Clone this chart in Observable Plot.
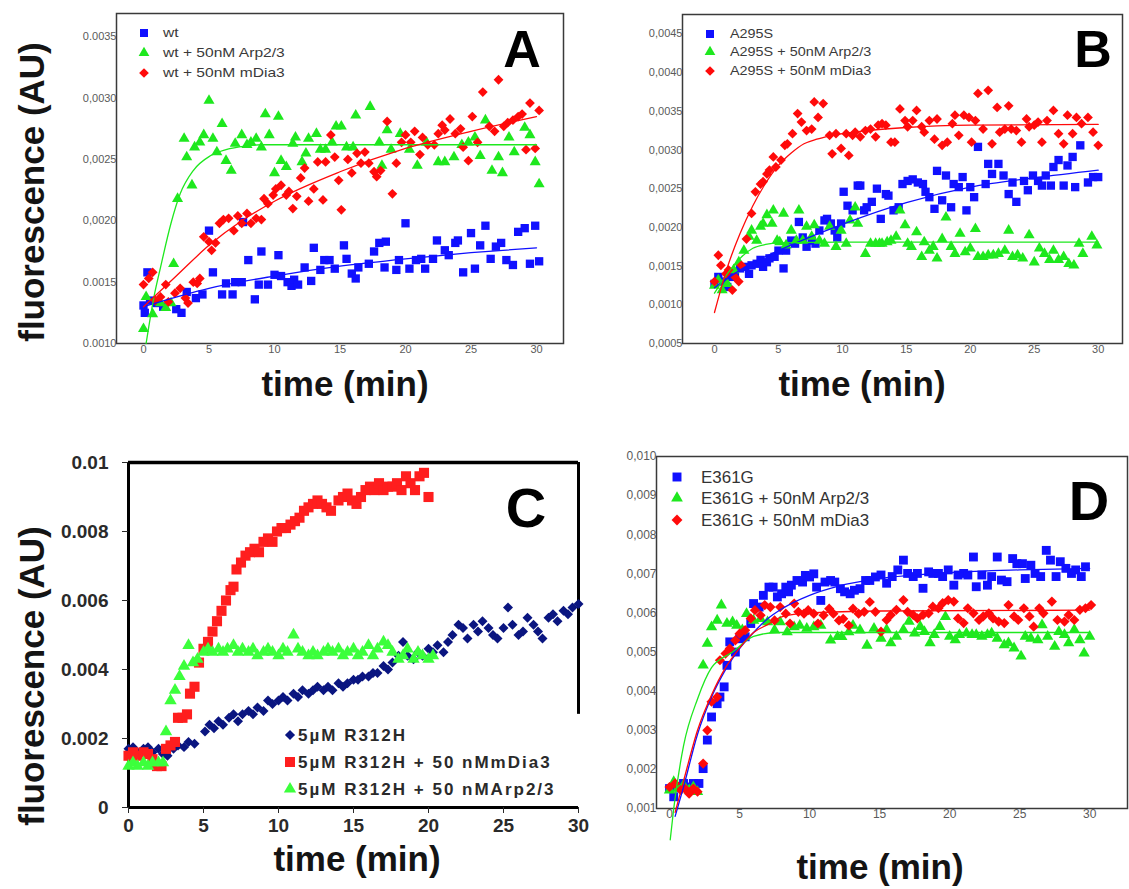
<!DOCTYPE html>
<html><head><meta charset="utf-8">
<script src="https://cdn.jsdelivr.net/npm/d3@7"></script>
<script src="https://cdn.jsdelivr.net/npm/@observablehq/plot@0.6"></script>
<style>
body{margin:0;background:#fff;}
#fig{position:relative;width:1129px;height:889px;overflow:hidden;background:#fff;}
</style></head><body><div id="fig"></div>
<script>
// ---------------- DATA (time in min, fluorescence in AU) ----------------
const xTicks = [0, 5, 10, 15, 20, 25, 30];
const aYTicks = [0.001, 0.0015, 0.002, 0.0025, 0.003, 0.0035];
const aYLabels = ["0.0010", "0.0015", "0,0020", "0,0025", "0,0030", "0.0035"];
const bYTicks = [0.0005, 0.001, 0.0015, 0.002, 0.0025, 0.003, 0.0035, 0.004, 0.0045];
const bYLabels = ["0,0005", "0,0010", "0,0015", "0,0020", "0,0025", "0,0030", "0,0035", "0,0040", "0,0045"];
const cYTicks = [0, 0.002, 0.004, 0.006, 0.008, 0.01];
const cYLabels = ["0", "0.002", "0.004", "0.006", "0.008", "0.01"];
const dYTicks = [0.001, 0.002, 0.003, 0.004, 0.005, 0.006, 0.007, 0.008, 0.009, 0.010];
const dYLabels = ["0,001", "0,002", "0,003", "0,004", "0,005", "0,006", "0,007", "0,008", "0,009", "0,010"];

const legendA = ["wt", "wt + 50nM Arp2/3", "wt + 50nM mDia3"];
const legendB = ["A295S", "A295S + 50nM Arp2/3", "A295S + 50nM mDia3"];
const legendC = ["5µM R312H", "5µM R312H + 50 nMmDia3", "5µM R312H + 50 nMArp2/3"];
const legendD = ["E361G", "E361G + 50nM Arp2/3", "E361G + 50nM mDia3"];

// Panel A
const A_wt = [[0,0.00131],[0.1,0.00125],[0.3,0.00158],[0.5,0.00135],[1,0.00133],[1.5,0.0013],[2.5,0.00128],[2.9,0.00125],[3.3,0.00142],[4,0.00137],[4.5,0.0014],[5,0.00192],[5.3,0.00158],[6,0.0014],[6.3,0.00149],[6.8,0.0014],[7,0.0015],[7.5,0.0015],[7.6,0.00199],[8,0.00168],[8.5,0.00136],[8.8,0.00148],[9,0.00175],[9.5,0.00148],[10,0.00156],[10.3,0.00172],[10.5,0.00155],[11,0.0015],[11.3,0.00147],[11.5,0.00152],[11.8,0.00148],[12.3,0.00162],[12.8,0.00151],[13,0.00178],[13.5,0.0016],[13.8,0.00168],[14.2,0.00168],[14.6,0.00161],[15.3,0.0018],[15.5,0.00169],[15.9,0.00157],[16.2,0.00153],[16.4,0.00162],[17.2,0.00165],[17.6,0.00175],[18,0.00182],[18.4,0.00162],[18.5,0.00183],[19.3,0.0016],[19.5,0.00168],[20,0.00198],[20.3,0.00161],[20.8,0.00168],[21.2,0.00169],[21.5,0.00161],[22.1,0.00169],[22.4,0.00184],[23,0.00176],[23.3,0.00172],[23.8,0.00182],[24,0.00184],[24.4,0.00158],[25,0.0019],[25.3,0.00161],[25.7,0.0018],[26.1,0.00196],[26.5,0.00169],[26.9,0.00179],[27.3,0.00182],[27.7,0.00168],[28.2,0.00164],[28.6,0.00191],[29.1,0.00194],[29.5,0.00165],[29.9,0.00196],[30.2,0.00167]];
const A_arp = [[0,0.00112],[0.2,0.00138],[0.7,0.00124],[1.3,0.00133],[1.7,0.00129],[2.1,0.00133],[2.3,0.00165],[2.6,0.00218],[3.1,0.00267],[3.3,0.00252],[3.7,0.00229],[3.9,0.0026],[4.3,0.00264],[4.6,0.0027],[5,0.00298],[5.3,0.00267],[5.6,0.00256],[6,0.00279],[6.3,0.00249],[6.7,0.00241],[7,0.00263],[7.5,0.0027],[7.9,0.00262],[8.2,0.00264],[8.6,0.00267],[9,0.0026],[9.3,0.00287],[9.6,0.0027],[10,0.00239],[10.3,0.00285],[10.5,0.00249],[10.9,0.00244],[11.4,0.00263],[11.6,0.00268],[12.1,0.00248],[12.4,0.00255],[12.6,0.00267],[13.2,0.00271],[13.5,0.00258],[13.9,0.00258],[14.4,0.00264],[14.7,0.00277],[15.1,0.00277],[15.5,0.0026],[16,0.0026],[16.2,0.00286],[17.3,0.00293],[18,0.00264],[18.2,0.00245],[18.6,0.00274],[18.9,0.00258],[19.6,0.00271],[20.3,0.00258],[20.9,0.00245],[21.6,0.00264],[22.5,0.00248],[23,0.00248],[23.7,0.00252],[24.3,0.00262],[24.8,0.00264],[25.3,0.00268],[25.7,0.00253],[26.1,0.00282],[26.6,0.00241],[27.1,0.00252],[27.4,0.00239],[27.9,0.00268],[28.3,0.00256],[29.1,0.00276],[29.5,0.0027],[29.9,0.00248],[30.2,0.0023]];
const A_dia = [[0,0.00148],[0.4,0.00153],[0.7,0.00158],[0.9,0.00135],[1.3,0.00138],[1.7,0.00148],[1.9,0.00134],[2.4,0.00141],[2.8,0.00145],[3.2,0.00137],[3.4,0.00133],[3.8,0.0015],[4.1,0.00149],[4.3,0.00153],[4.6,0.00187],[5,0.00183],[5.2,0.00176],[5.5,0.00182],[5.8,0.00198],[6.1,0.00201],[6.5,0.00202],[6.9,0.00192],[7.2,0.00204],[7.5,0.00198],[7.9,0.00206],[8.2,0.00198],[8.6,0.00202],[9,0.00201],[9.2,0.00218],[9.5,0.00214],[9.9,0.00221],[10.1,0.00226],[10.5,0.00229],[10.9,0.00221],[11.1,0.00224],[11.4,0.0021],[11.7,0.0022],[12,0.00235],[12.3,0.00243],[12.6,0.00216],[13,0.00226],[13.3,0.00248],[13.7,0.00217],[13.9,0.00248],[14.3,0.0027],[14.6,0.00252],[14.9,0.00233],[15.1,0.00209],[15.6,0.0025],[15.9,0.00239],[16.3,0.00255],[16.6,0.00247],[16.9,0.00256],[17.2,0.00247],[17.6,0.0024],[17.8,0.00236],[18.1,0.00241],[18.6,0.00281],[19,0.00222],[19.3,0.00247],[19.7,0.00264],[20,0.0027],[20.4,0.00264],[20.7,0.00273],[21.1,0.00254],[21.3,0.00268],[21.7,0.00262],[22.2,0.00262],[22.5,0.00271],[22.8,0.00278],[23,0.00274],[23.4,0.00283],[23.8,0.00271],[24.2,0.00275],[24.4,0.0026],[24.8,0.00249],[25.1,0.00285],[25.5,0.00264],[25.9,0.00305],[26.4,0.00277],[26.8,0.00273],[27.1,0.00315],[27.5,0.00277],[27.8,0.0028],[28.2,0.00282],[28.6,0.00285],[28.9,0.00287],[29.2,0.00258],[29.5,0.00296],[29.9,0.00259],[30.2,0.0029]];
const A_wtFit = [[0,0.0013],[5,0.00145],[10,0.00155],[15,0.00163],[20,0.00169],[25,0.00174],[30,0.00178]];
const A_arpFit = [[0.2,0.001],[0.8,0.00138],[1.3,0.00162],[2.1,0.00198],[2.8,0.00222],[3.8,0.00241],[5.1,0.00253],[6.3,0.00258],[7.9,0.00261],[9,0.00262],[15,0.00262],[30,0.00262]];
const A_diaFit = [[0,0.0013],[2.5,0.00155],[5,0.0018],[7.5,0.002],[10,0.00216],[15,0.0024],[20,0.00259],[25,0.00273],[30,0.00285]];

// Panel B
const B_wt = [[0,0.00127],[0.3,0.00136],[0.7,0.0013],[1,0.00123],[1.2,0.00136],[1.6,0.0014],[2,0.00147],[2.4,0.00149],[2.7,0.0014],[2.9,0.00151],[3.3,0.00153],[3.6,0.00158],[3.8,0.00149],[4.1,0.00155],[4.3,0.0016],[4.7,0.00162],[5,0.0017],[5.4,0.00147],[5.6,0.0017],[6,0.00183],[6.3,0.00179],[6.6,0.00207],[6.9,0.00187],[7.2,0.00175],[7.6,0.00183],[7.9,0.00179],[8.2,0.00196],[8.6,0.00209],[8.8,0.00211],[9.1,0.00205],[9.4,0.00196],[9.6,0.00187],[9.9,0.00205],[10.1,0.00246],[10.4,0.00228],[10.8,0.00222],[11.2,0.00254],[11.4,0.00254],[11.7,0.00222],[11.9,0.00226],[12.3,0.00233],[12.7,0.0025],[13,0.00211],[13.4,0.00243],[13.6,0.00241],[14,0.00222],[14.4,0.00226],[14.7,0.00256],[15.1,0.0026],[15.5,0.00262],[15.9,0.00258],[16.3,0.00256],[16.5,0.00246],[16.8,0.00239],[17.2,0.00224],[17.4,0.00273],[17.8,0.00235],[18.1,0.00267],[18.5,0.00226],[18.7,0.00256],[19.1,0.00252],[19.4,0.00265],[19.7,0.00222],[20,0.00252],[20.3,0.00239],[20.6,0.00304],[21.2,0.00256],[21.4,0.00282],[21.7,0.00269],[22.2,0.00282],[22.6,0.00267],[23,0.00243],[23.3,0.00258],[23.6,0.00233],[24.2,0.0026],[24.5,0.00248],[24.9,0.00267],[25.3,0.0026],[25.6,0.00254],[25.9,0.00267],[26.3,0.00254],[26.5,0.00278],[26.9,0.00287],[27.3,0.00254],[27.6,0.0028],[28,0.00291],[28.2,0.00252],[28.6,0.00306],[29.2,0.00258],[29.6,0.00265],[30,0.00265]];
const B_arp = [[0,0.00125],[0.3,0.00132],[0.6,0.00119],[1,0.00127],[1.5,0.00145],[1.9,0.00155],[2.3,0.0017],[2.7,0.00188],[2.9,0.00196],[3.3,0.00183],[3.6,0.00201],[3.8,0.00205],[4.1,0.00216],[4.5,0.00205],[4.6,0.00222],[4.9,0.00183],[5.1,0.00181],[5.4,0.00218],[5.6,0.00177],[6,0.00196],[6.4,0.00183],[6.6,0.00222],[6.9,0.00183],[7.2,0.00201],[7.6,0.00188],[7.8,0.00203],[8.2,0.00183],[8.6,0.00179],[9,0.00201],[9.5,0.00175],[9.9,0.00196],[10.3,0.00179],[10.6,0.00209],[11,0.00226],[11.2,0.00205],[11.8,0.00166],[12.2,0.00179],[12.6,0.00179],[12.9,0.00179],[13.1,0.00179],[13.5,0.00181],[13.8,0.00183],[14.2,0.00188],[14.5,0.00222],[14.9,0.00203],[15.1,0.00179],[15.4,0.00175],[15.8,0.00194],[16.2,0.00162],[16.4,0.00181],[16.8,0.0017],[17.1,0.00175],[17.4,0.0016],[17.8,0.00185],[18.1,0.00213],[18.5,0.00175],[18.8,0.00166],[19.2,0.00192],[19.6,0.00168],[20,0.00173],[20.4,0.00198],[20.6,0.00162],[21,0.00162],[21.4,0.00164],[21.8,0.00164],[22.2,0.00166],[22.7,0.0017],[23,0.00196],[23.3,0.00162],[23.7,0.00164],[24.1,0.0016],[24.6,0.0019],[25,0.00155],[25.4,0.00173],[25.8,0.00166],[26.2,0.00158],[26.5,0.0017],[26.9,0.00158],[27.3,0.00162],[27.7,0.00153],[28.1,0.00151],[28.5,0.00179],[28.8,0.00166],[29.5,0.00188],[29.9,0.00177]];
const B_dia = [[0,0.0013],[0.3,0.00164],[0.5,0.00151],[0.9,0.0014],[1.1,0.00145],[1.4,0.00119],[1.6,0.00136],[1.9,0.0013],[2.1,0.00151],[2.5,0.00185],[2.9,0.00218],[3.2,0.00246],[3.6,0.00256],[3.8,0.00259],[4.1,0.00269],[4.3,0.00274],[4.6,0.00291],[4.8,0.00278],[5.2,0.00287],[5.5,0.00306],[5.7,0.00308],[6.1,0.00321],[6.5,0.00347],[6.8,0.00336],[7.2,0.00325],[7.6,0.00327],[7.8,0.00362],[8.1,0.00342],[8.5,0.0036],[9,0.00319],[9.2,0.00295],[9.5,0.00321],[9.9,0.00302],[10.3,0.00321],[10.5,0.00293],[10.8,0.00319],[11,0.00323],[11.4,0.00317],[11.8,0.00325],[12.2,0.00327],[12.6,0.00317],[12.8,0.00332],[13.1,0.00334],[13.4,0.00332],[13.8,0.0031],[14.1,0.0031],[14.5,0.00353],[14.9,0.00338],[15.1,0.0033],[15.5,0.00338],[15.8,0.00351],[16.2,0.0033],[16.4,0.00323],[16.8,0.00338],[17.2,0.00314],[17.4,0.0034],[17.8,0.00306],[18.2,0.0031],[18.6,0.00334],[18.8,0.00345],[19.1,0.00319],[19.5,0.00345],[19.9,0.00342],[20.1,0.0031],[20.4,0.00338],[20.6,0.00373],[21,0.00327],[21.4,0.00377],[21.7,0.00308],[22.1,0.00355],[22.3,0.00323],[22.7,0.00327],[23,0.00357],[23.2,0.00327],[23.6,0.00325],[24,0.0031],[24.4,0.0034],[24.6,0.0033],[25,0.00332],[25.3,0.00336],[25.6,0.0031],[26,0.00338],[26.5,0.00351],[26.9,0.00321],[27.3,0.00308],[27.6,0.00345],[28,0.00321],[28.3,0.00342],[28.7,0.00334],[29.2,0.00342],[29.6,0.00323],[30,0.00306]];
const B_wtFit = [[0,0.00122],[2.5,0.0015],[5,0.0017],[10,0.00204],[15,0.00232],[20,0.00252],[25,0.00264],[30,0.00274]];
const B_arpFit = [[0,0.00115],[1,0.0014],[2,0.0016],[3,0.00173],[4,0.00178],[5,0.0018],[10,0.00181],[30,0.00181]];
const B_diaFit = [[0,0.0009],[1,0.00148],[2,0.00192],[3,0.00228],[4,0.00257],[5,0.0028],[6,0.00296],[7,0.00308],[8,0.00314],[9,0.00318],[10,0.00321],[12,0.00325],[15,0.00329],[20,0.00332],[30,0.00333]];

// Panel C
const C_r312h = [[0,0.0017],[0.3,0.00175],[0.6,0.0016],[1,0.0017],[1.3,0.00175],[1.6,0.0016],[2,0.0017],[2.3,0.00155],[2.6,0.0015],[3,0.0017],[3.3,0.0018],[3.7,0.00175],[4,0.0019],[4.4,0.00185],[5.1,0.0022],[5.4,0.0024],[5.7,0.0023],[6,0.0025],[6.3,0.0024],[6.7,0.0026],[7,0.0027],[7.3,0.0025],[7.6,0.0027],[8,0.0028],[8.3,0.0027],[8.6,0.0029],[9,0.0028],[9.3,0.0031],[9.6,0.003],[10,0.0031],[10.3,0.0032],[10.6,0.0031],[11,0.0033],[11.3,0.0032],[11.6,0.0034],[12,0.0033],[12.3,0.0034],[12.6,0.0035],[13,0.0034],[13.3,0.0035],[13.6,0.0034],[14,0.0036],[14.3,0.0035],[14.6,0.0036],[15,0.0037],[15.3,0.0037],[15.6,0.0038],[16,0.0038],[16.3,0.0039],[16.6,0.0039],[17,0.0041],[17.3,0.004],[17.6,0.0042],[18,0.0044],[18.3,0.0048],[18.6,0.0044],[19,0.0043],[19.3,0.0045],[19.6,0.0044],[20,0.0046],[20.3,0.0045],[20.6,0.0047],[21,0.0045],[21.3,0.0048],[21.6,0.005],[22,0.0053],[22.3,0.0052],[22.6,0.0049],[23,0.0053],[23.3,0.0051],[23.6,0.0054],[24,0.0052],[24.3,0.005],[24.6,0.0049],[25,0.0052],[25.3,0.0058],[25.6,0.0053],[26,0.005],[26.3,0.0051],[26.6,0.0055],[27,0.0053],[27.3,0.0051],[27.6,0.0049],[28,0.0055],[28.3,0.0056],[28.6,0.0054],[29,0.0057],[29.3,0.0056],[29.6,0.0058],[30,0.0059]];
const C_mdia3 = [[0,0.0015],[0.3,0.0016],[0.6,0.0015],[1,0.0016],[1.3,0.00155],[1.6,0.0014],[1.9,0.0012],[2.2,0.0012],[2.5,0.0017],[2.8,0.0018],[3.1,0.0019],[3.3,0.0026],[3.6,0.0026],[3.9,0.0027],[4.1,0.0033],[4.4,0.0035],[4.7,0.0042],[5,0.0046],[5.3,0.0048],[5.6,0.0051],[5.9,0.0054],[6.2,0.0057],[6.5,0.006],[6.8,0.0063],[7,0.0064],[7.2,0.0069],[7.5,0.0071],[7.8,0.0073],[8.1,0.0074],[8.4,0.0075],[8.7,0.0074],[9,0.0077],[9.3,0.0078],[9.6,0.0077],[9.9,0.008],[10.2,0.0081],[10.5,0.0081],[10.8,0.0082],[11.1,0.0083],[11.4,0.0084],[11.7,0.0086],[12,0.0087],[12.3,0.0088],[12.6,0.0089],[12.9,0.0088],[13.2,0.0087],[13.5,0.0086],[14,0.0089],[14.3,0.009],[14.6,0.0091],[14.9,0.0089],[15.2,0.0088],[15.5,0.009],[15.8,0.0092],[16.1,0.0093],[16.4,0.0092],[16.7,0.0094],[17,0.0092],[17.3,0.0093],[17.6,0.0093],[17.9,0.0094],[18.2,0.0092],[18.5,0.0096],[18.8,0.0094],[19.1,0.0092],[19.4,0.0096],[19.7,0.0097],[20,0.009]];
const C_arp = [[0,0.0012],[0.3,0.0013],[0.6,0.0012],[1,0.0013],[1.3,0.0012],[1.6,0.0013],[2,0.0013],[2.3,0.0013],[2.5,0.0022],[2.8,0.0031],[3.1,0.0034],[3.4,0.0038],[3.7,0.0041],[4,0.0047],[4.3,0.0042],[4.6,0.0043],[5,0.0045],[5.3,0.0046],[5.6,0.0045],[6,0.0046],[6.3,0.0045],[6.6,0.0046],[7,0.0047],[7.3,0.0045],[7.6,0.0046],[8,0.0045],[8.3,0.0046],[8.6,0.0044],[9,0.0045],[9.3,0.0046],[9.6,0.0045],[10,0.0044],[10.3,0.0046],[10.6,0.0045],[11,0.005],[11.3,0.0046],[11.6,0.0045],[12,0.0044],[12.3,0.0045],[12.6,0.0044],[13,0.0045],[13.3,0.0046],[13.6,0.0045],[14,0.0046],[14.3,0.0044],[14.6,0.0045],[15,0.0046],[15.3,0.0044],[15.6,0.0045],[16,0.0047],[16.3,0.0044],[16.6,0.0046],[17,0.0048],[17.3,0.0047],[17.6,0.0045],[18,0.0043],[18.3,0.0044],[18.6,0.0046],[19,0.0043],[19.3,0.0045],[19.6,0.0044],[20,0.0043],[20.3,0.0044]];

// Panel D
const D_wt = [[0,0.00151],[0.3,0.0013],[0.6,0.00155],[1,0.00164],[1.4,0.00155],[1.7,0.00164],[2.1,0.00164],[2.4,0.00202],[2.7,0.00275],[3,0.00334],[3.4,0.00368],[3.6,0.00385],[3.9,0.00411],[4.1,0.00466],[4.3,0.00526],[4.7,0.005],[5,0.00534],[5.4,0.00539],[5.8,0.00573],[6,0.00624],[6.4,0.00615],[6.7,0.00645],[7.1,0.00666],[7.4,0.00666],[7.7,0.00641],[8,0.00649],[8.3,0.00666],[8.5,0.00654],[8.7,0.00671],[9.1,0.00683],[9.5,0.00679],[9.7,0.00696],[10,0.00692],[10.3,0.007],[10.5,0.00666],[10.8,0.00632],[11.1,0.00679],[11.5,0.00683],[11.8,0.00679],[12.2,0.00662],[12.5,0.00654],[12.9,0.00649],[13.2,0.00658],[13.6,0.00662],[14,0.00683],[14.3,0.00683],[14.7,0.00692],[15.1,0.00697],[15.5,0.00676],[15.9,0.00693],[16.3,0.0071],[16.7,0.00735],[17,0.00701],[17.4,0.00693],[17.7,0.00701],[18.1,0.00663],[18.5,0.00705],[18.8,0.00701],[19.2,0.00701],[19.5,0.00693],[19.9,0.0071],[20.3,0.00671],[20.6,0.00697],[21,0.00701],[21.3,0.00697],[21.7,0.00743],[21.9,0.00667],[22.3,0.00697],[22.7,0.00671],[23,0.00693],[23.4,0.00743],[23.7,0.00684],[24.1,0.0068],[24.5,0.00739],[24.8,0.00726],[25.2,0.00726],[25.4,0.00688],[25.8,0.00722],[26.1,0.00701],[26.5,0.00693],[26.9,0.0076],[27.2,0.00735],[27.6,0.00693],[27.9,0.00731],[28.3,0.00714],[28.7,0.00701],[29,0.0071],[29.4,0.00693],[29.7,0.00718]];
const D_arp = [[0,0.00147],[0.3,0.00168],[0.6,0.00151],[1,0.0016],[1.4,0.00147],[1.7,0.00155],[2,0.00143],[2.4,0.00466],[2.7,0.00522],[3,0.00564],[3.4,0.00581],[3.7,0.0062],[4.1,0.00573],[4.5,0.00577],[4.8,0.00568],[5.2,0.00556],[5.5,0.00598],[6,0.00581],[6.5,0.00585],[7,0.00577],[7.5,0.00556],[7.9,0.00577],[8.4,0.00551],[8.9,0.00564],[9.3,0.00568],[9.8,0.0056],[10.3,0.00564],[10.8,0.00568],[11.5,0.0053],[12,0.00539],[12.3,0.00539],[12.8,0.00551],[13.1,0.00568],[13.6,0.00556],[14.1,0.00517],[14.6,0.0056],[15.1,0.00535],[15.5,0.00557],[15.8,0.00523],[16.2,0.0054],[16.7,0.00557],[17.1,0.00578],[17.5,0.00548],[17.9,0.00565],[18.2,0.00552],[18.6,0.00523],[18.9,0.00544],[19.3,0.00565],[19.7,0.0059],[20,0.0054],[20.4,0.00531],[20.7,0.00544],[21.2,0.00548],[21.6,0.00544],[21.9,0.00544],[22.3,0.0054],[22.7,0.00544],[23,0.00548],[23.4,0.00535],[23.9,0.00518],[24.2,0.00523],[24.6,0.0051],[25.1,0.00489],[25.4,0.0054],[25.8,0.00535],[26.3,0.00531],[26.6,0.00569],[27,0.0054],[27.5,0.00514],[27.8,0.00552],[28.2,0.00544],[28.5,0.00523],[28.9,0.00557],[29.3,0.00531],[29.6,0.00497],[30,0.0054]];
const D_dia = [[0,0.00155],[0.4,0.00164],[0.8,0.00147],[1.1,0.00151],[1.4,0.00138],[1.7,0.00151],[2,0.00143],[2.4,0.00215],[2.7,0.003],[3,0.00373],[3.4,0.00385],[3.6,0.00479],[4,0.00496],[4.3,0.00509],[4.7,0.0053],[5,0.00547],[5.4,0.00556],[5.8,0.00586],[6.1,0.00607],[6.5,0.00594],[6.8,0.0062],[7.2,0.00615],[7.5,0.00581],[7.9,0.00615],[8.3,0.00598],[8.6,0.00573],[8.9,0.00624],[9.2,0.00603],[9.6,0.00598],[9.9,0.00607],[10.3,0.00598],[10.6,0.00573],[11,0.00594],[11.4,0.00611],[11.7,0.00598],[12.1,0.00581],[12.4,0.00585],[12.8,0.00568],[13.1,0.00611],[13.5,0.00598],[13.9,0.00603],[14.3,0.00628],[14.7,0.00603],[15.1,0.00552],[15.5,0.00582],[15.8,0.00595],[16.2,0.00608],[16.7,0.00633],[17,0.00603],[17.4,0.00595],[17.7,0.00586],[18.1,0.00595],[18.5,0.00599],[18.8,0.00616],[19.2,0.00612],[19.5,0.00625],[19.9,0.00633],[20.3,0.00629],[20.6,0.00586],[21,0.00574],[21.3,0.00612],[21.7,0.00599],[22.1,0.00582],[22.4,0.00591],[22.8,0.00599],[23.1,0.00586],[23.5,0.00578],[23.9,0.00574],[24.2,0.0062],[24.6,0.00591],[24.9,0.00582],[25.3,0.00612],[25.7,0.00591],[26,0.00565],[26.4,0.00612],[26.7,0.00599],[27.3,0.00629],[27.7,0.00582],[28.2,0.00578],[28.5,0.00595],[28.9,0.00582],[29.3,0.00608],[29.7,0.00612],[30.1,0.0062]];
const D_wtFit = [[0.4,0.0008],[1,0.00155],[2,0.0029],[3,0.00385],[4,0.00455],[5,0.00509],[6,0.0055],[7,0.00585],[8,0.0061],[10,0.00645],[12,0.00668],[15,0.00688],[20,0.00703],[25,0.0071],[30,0.00714]];
const D_arpFit = [[0.05,0.0002],[0.3,0.001],[1,0.0026],[2,0.0038],[3,0.0046],[4.5,0.005],[6,0.0054],[7.7,0.0055],[10,0.0055],[30,0.0055]];
const D_diaFit = [[0.4,0.0009],[1,0.0017],[2,0.003],[3,0.0039],[4,0.0046],[5,0.0051],[6,0.0055],[7,0.0057],[8,0.0059],[10,0.006],[15,0.00605],[30,0.00607]];

// ---------------- RENDER ----------------
const FONT = '"Liberation Sans", Arial, Helvetica, sans-serif';
const BLUE = "#1010ff", GREEN = "#1ee81e", RED = "#ff0a0a";
const NAVY = "#0a1580", CRED = "#ff1e1e", CGREEN = "#3cff3c";
const fig = document.getElementById("fig");
const pts = arr => arr.map(([t, v]) => ({t, v}));

function panel(cfg) {
  const marks = [...cfg.decor];
  marks.push(Plot.axisX({ticks: xTicks, tickFormat: d => String(d), label: null, ...cfg.xAxis}));
  marks.push(Plot.axisY({ticks: cfg.yTicks, tickFormat: d => cfg.yLabels[cfg.yTicks.indexOf(d)], label: null, ...cfg.yAxis}));
  for (const s of cfg.series) marks.push(Plot.dot(pts(s.data), {x: "t", y: "v", symbol: s.symbol, fill: s.color, r: s.r}));
  for (const f of (cfg.fits || [])) marks.push(Plot.line(pts(f.data), {x: "t", y: "v", stroke: f.color, strokeWidth: 1.3, curve: "monotone-x"}));
  const svg = Plot.plot({
    width: cfg.w, height: cfg.h,
    marginLeft: cfg.m[3], marginRight: cfg.m[1], marginTop: cfg.m[0], marginBottom: cfg.m[2],
    x: {domain: cfg.xDomain}, y: {domain: cfg.yDomain},
    style: {fontFamily: FONT, background: "none", overflow: "visible", maxWidth: "none"},
    marks
  });
  const div = document.createElement("div");
  div.style.cssText = `position:absolute;left:${cfg.left}px;top:${cfg.top}px;width:${cfg.w}px;height:${cfg.h}px;`;
  div.append(svg);
  fig.append(div);
}

const smallAxis = {tickSize: 0, fontSize: 11, color: "#5a5a5a"};

panel({
  left: 60, top: 0, w: 520, h: 370, m: [13, 17, 27, 56],
  xDomain: [-2.06, 32.06], yDomain: [0.001, 0.00369],
  yTicks: aYTicks, yLabels: aYLabels,
  decor: [Plot.frame({stroke: "#3a3a3a", strokeWidth: 1.5})],
  xAxis: {...smallAxis, tickPadding: 2}, yAxis: {...smallAxis, tickPadding: 0},
  series: [
    {data: A_wt, symbol: "square", color: BLUE, r: 4.7},
    {data: A_arp, symbol: "triangle", color: GREEN, r: 4.1},
    {data: A_dia, symbol: "diamond2", color: RED, r: 4.4}
  ],
  fits: [{data: A_wtFit, color: BLUE}, {data: A_arpFit, color: GREEN}, {data: A_diaFit, color: RED}]
});

panel({
  left: 620, top: 0, w: 509, h: 370, m: [14, 7, 27, 62],
  xDomain: [-2.5, 31.9], yDomain: [0.0005, 0.00475],
  yTicks: bYTicks, yLabels: bYLabels,
  decor: [Plot.frame({stroke: "#3a3a3a", strokeWidth: 1.5})],
  xAxis: {...smallAxis, tickPadding: 2}, yAxis: {...smallAxis, tickPadding: 0},
  series: [
    {data: B_wt, symbol: "square", color: BLUE, r: 4.7},
    {data: B_arp, symbol: "triangle", color: GREEN, r: 4.1},
    {data: B_dia, symbol: "diamond2", color: RED, r: 4.4}
  ],
  fits: [{data: B_wtFit, color: BLUE}, {data: B_arpFit, color: GREEN}, {data: B_diaFit, color: RED}]
});

panel({
  left: 40, top: 440, w: 560, h: 400, m: [22, 22, 33, 88],
  xDomain: [0, 30], yDomain: [0, 0.01],
  yTicks: cYTicks, yLabels: cYLabels,
  decor: [
    Plot.ruleX([0], {stroke: "#000", strokeWidth: 3}),
    Plot.ruleY([0], {stroke: "#000", strokeWidth: 3}),
    Plot.ruleY([0.01], {stroke: "#000", strokeWidth: 3.5}),
    Plot.ruleX([30], {y1: 0.0027, y2: 0.01, stroke: "#000", strokeWidth: 3})
  ],
  xAxis: {tickSize: 6, tickPadding: 5, fontSize: 19, fontWeight: "bold", color: "#2a2a2a"},
  yAxis: {tickSize: 6, tickPadding: 14, fontSize: 19, fontWeight: "bold", color: "#2a2a2a"},
  series: [
    {data: C_r312h, symbol: "diamond2", color: NAVY, r: 4.5},
    {data: C_mdia3, symbol: "square", color: CRED, r: 5.7},
    {data: C_arp, symbol: "triangle", color: CGREEN, r: 4.6}
  ]
});

panel({
  left: 600, top: 440, w: 529, h: 410, m: [16, 2, 42, 56],
  xDomain: [-0.93, 32.7], yDomain: [0.001, 0.010],
  yTicks: dYTicks, yLabels: dYLabels,
  decor: [Plot.frame({stroke: "#3a3a3a", strokeWidth: 1.5})],
  xAxis: {...smallAxis, fontSize: 12, tickPadding: 1}, yAxis: {...smallAxis, fontSize: 12, tickPadding: 0},
  series: [
    {data: D_wt, symbol: "square", color: BLUE, r: 5},
    {data: D_arp, symbol: "triangle", color: GREEN, r: 4.2},
    {data: D_dia, symbol: "diamond2", color: RED, r: 4.6}
  ],
  fits: [{data: D_wtFit, color: BLUE}, {data: D_arpFit, color: GREEN}, {data: D_diaFit, color: RED}]
});

// ---------- overlay: titles, panel letters, legends ----------
const ov = d3.create("svg").attr("width", 1129).attr("height", 889)
  .style("position", "absolute").style("left", 0).style("top", 0)
  .style("font-family", FONT).style("pointer-events", "none");

const title = (x, y, s, rot) => {
  const t = ov.append("text").attr("text-anchor", "middle").attr("font-weight", "bold")
    .attr("font-size", 35).attr("fill", "#141414").text(s);
  t.attr("transform", rot ? `translate(${x},${y}) rotate(-90)` : `translate(${x},${y})`);
};
title(345, 396, "time (min)");
title(862, 396, "time (min)");
title(357, 871, "time (min)");
title(880, 879, "time (min)");
title(44, 192, "fluorescence (AU)", true);
title(44, 676, "fluorescence (AU)", true);

const letter = (x, y, s, size) => ov.append("text").attr("x", x).attr("y", y).attr("text-anchor", "middle")
  .attr("font-weight", "bold").attr("font-size", size).attr("fill", "#000").text(s);
letter(522, 67, "A", 52);
letter(1093, 67, "B", 52);
letter(526, 527, "C", 56);
letter(1089, 520, "D", 56);

const SYM = {square: d3.symbolSquare, triangle: d3.symbolTriangle, diamond2: d3.symbolDiamond2};
function legend(items, sx, tx, ys, size, sx2, fill, weight, spacing, symSizes) {
  items.forEach((it, i) => {
    ov.append("path").attr("d", d3.symbol(SYM[it.symbol], symSizes[i])())
      .attr("transform", `translate(${sx},${ys[i]})`).attr("fill", it.color);
    ov.append("text").attr("transform", `translate(${tx},${ys[i] + size * 0.36}) scale(${sx2},1)`)
      .attr("font-size", size).attr("fill", fill).attr("font-weight", weight)
      .attr("letter-spacing", spacing).text(it.label);
  });
}
const trio = (labels, cols) => [
  {symbol: "square", color: cols[0], label: labels[0]},
  {symbol: "triangle", color: cols[1], label: labels[1]},
  {symbol: "diamond2", color: cols[2], label: labels[2]}
];
legend(trio(legendA, [BLUE, GREEN, RED]), 144, 163, [33, 53, 73], 12, 1.3, "#3a3a3a", "normal", 0, [64, 50, 60]);
legend(trio(legendB, [BLUE, GREEN, RED]), 710, 730, [34, 52, 71], 12, 1.2, "#3a3a3a", "normal", 0, [64, 50, 60]);
legend(trio(legendD, [BLUE, GREEN, RED]), 677, 701, [477, 498, 520], 16, 1.06, "#333", "normal", 0, [80, 60, 75]);
legend([
  {symbol: "diamond2", color: NAVY, label: legendC[0]},
  {symbol: "square", color: CRED, label: legendC[1]},
  {symbol: "triangle", color: CGREEN, label: legendC[2]}
], 290, 298, [735, 762, 789], 17, 1, "#2a2a2a", "bold", 2, [65, 100, 65]);

fig.append(ov.node());
</script></body></html>
